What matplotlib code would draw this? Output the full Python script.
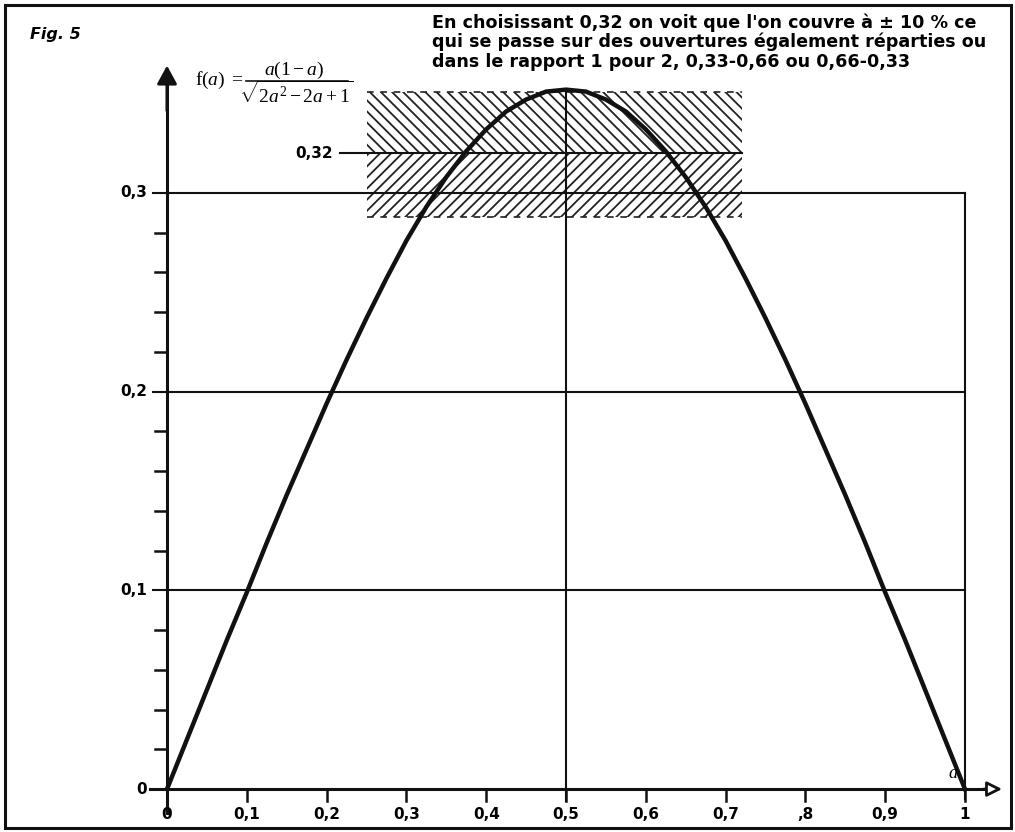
import numpy as np
import matplotlib
matplotlib.use('Agg')
import matplotlib.pyplot as plt
from matplotlib.patches import Rectangle

plt.rcParams['font.family'] = ['DejaVu Sans']
plt.rcParams['mathtext.fontset'] = 'custom'
plt.rcParams['mathtext.rm'] = 'Liberation Serif'
plt.rcParams['mathtext.it'] = 'Liberation Serif:italic'
plt.rcParams['hatch.linewidth'] = 1.3

# values
a_vals = [0, 0.025, 0.05, 0.075, 0.1, 0.125, 0.15, 0.175, 0.2, 0.225, 0.25,
          0.275, 0.3, 0.325, 0.35, 0.375, 0.4, 0.425, 0.45, 0.475, 0.5,
          0.525, 0.55, 0.575, 0.6, 0.625, 0.65, 0.675, 0.7, 0.725, 0.75,
          0.775, 0.8, 0.825, 0.85, 0.875, 0.9, 0.925, 0.95, 0.975, 1.0]
f_vals = [0, 0.025, 0.050, 0.075, 0.099, 0.124, 0.148, 0.171, 0.194, 0.216, 0.237,
          0.257, 0.276, 0.293, 0.308, 0.321, 0.332, 0.341, 0.347, 0.351, 0.352,
          0.351, 0.347, 0.341, 0.332, 0.321, 0.308, 0.293, 0.276, 0.257, 0.237,
          0.216, 0.194, 0.171, 0.148, 0.124, 0.099, 0.075, 0.050, 0.025, 0]

x_ticks = [0, 0.1, 0.2, 0.3, 0.4, 0.5, 0.6, 0.7, 0.8, 0.9, 1.0]
x_labels = ['0', '0,1', '0,2', '0,3', '0,4', '0,5', '0,6', '0,7', ',8', '0,9', '1']
y_ticks = [0, 0.1, 0.2, 0.3]
y_labels = ['0', '0,1', '0,2', '0,3']
y_minor = [0.02, 0.04, 0.06, 0.08, 0.12, 0.14, 0.16, 0.18, 0.22, 0.24, 0.26, 0.28]
level = 0.32
band_x = (0.25, 0.72)
band_y = (0.288, 0.351)

note = ("En choisissant 0,32 on voit que l'on couvre à ± 10 % ce\n"
        "qui se passe sur des ouvertures également réparties ou\n"
        "dans le rapport 1 pour 2, 0,33-0,66 ou 0,66-0,33")

ink = '#111111'

fig = plt.figure(figsize=(10.15, 8.32), dpi=100)
ax = fig.add_axes([0, 0, 1, 1])
ax.set_xlim(-0.2093, 1.0627)
ax.set_ylim(-0.0216, 0.3971)
ax.axis('off')

# outer frame
fig.add_artist(Rectangle((5 / 1015, 4 / 832), 1006 / 1015, 823 / 832,
                         transform=fig.transFigure, fill=False, lw=2.2, ec=ink))

# hatched band around 0.32
ax.add_patch(Rectangle((band_x[0], level), band_x[1] - band_x[0], band_y[1] - level,
                       fill=False, hatch='\\\\\\', lw=0, ec='#222222'))
ax.add_patch(Rectangle((band_x[0], band_y[0]), band_x[1] - band_x[0], level - band_y[0],
                       fill=False, hatch='///', lw=0, ec='#222222'))
for y in band_y:
    ax.plot(band_x, [y, y], color='#222222', lw=1.2, ls=(0, (4, 4)))
ax.plot([0.217, band_x[1]], [level, level], color=ink, lw=1.5)
ax.text(0.208, level, '0,32', ha='right', va='center', fontsize=11, fontweight='bold')

# grid lines
for y in y_ticks[1:]:
    ax.plot([-0.018, 1.0], [y, y], color=ink, lw=1.5)
ax.plot([1.0, 1.0], [-0.005, 0.3], color=ink, lw=1.5)
ax.plot([0.5, 0.5], [-0.006, band_y[1]], color=ink, lw=1.5)

# axes with arrows
ax.plot([0, 0], [-0.012, 0.36], color=ink, lw=2.2)
ax.annotate('', xy=(0, 0.3655), xytext=(0, 0.34),
            arrowprops=dict(arrowstyle='-|>,head_length=1.1,head_width=0.6',
                            fc=ink, ec=ink, lw=2.2))
ax.plot([-0.021, 1.03], [0, 0], color=ink, lw=2.2)
ax.annotate('', xy=(1.05, 0), xytext=(1.02, 0),
            arrowprops=dict(arrowstyle='-|>,head_length=0.9,head_width=0.45',
                            fc='white', ec=ink, lw=2.0))

for x in x_ticks[1:]:
    ax.plot([x, x], [0, -0.006], color=ink, lw=1.8)
for y in y_minor:
    ax.plot([-0.015, 0], [y, y], color=ink, lw=1.8)
ax.plot([-0.018, 0], [0, 0], color=ink, lw=1.8)

for x, lab in zip(x_ticks, x_labels):
    ax.text(x, -0.0128, lab, ha='center', va='center', fontsize=11, fontweight='bold')
for y, lab in zip(y_ticks, y_labels):
    ax.text(-0.025, y, lab, ha='right', va='center', fontsize=11, fontweight='bold')

# curve
ax.plot(a_vals, f_vals, color=ink, lw=3.2, solid_joinstyle='round')

ax.text(0.985, 0.008, r'$a$', ha='center', va='center', fontsize=13)

# formula, built from pieces like the original
fig.text(30 / 1015, 1 - 35 / 832, 'Fig. 5', ha='left', va='center',
         fontsize=11.5, fontweight='bold', style='italic')
fig.text(195 / 1015, 1 - 80 / 832, r'$\mathrm{f}(a)\ =$', ha='left', va='center', fontsize=14)
fig.text(294 / 1015, 1 - 70 / 832, r'$a(1-a)$', ha='center', va='center', fontsize=14)
fig.add_artist(plt.Line2D([246 / 1015, 348 / 1015], [1 - 81 / 832, 1 - 81 / 832],
                          color=ink, lw=1.2))
fig.text(296 / 1015, 1 - 94 / 832, r'$\sqrt{2a^2-2a+1}$', ha='center', va='center', fontsize=14)

fig.text(432 / 1015, 1 - 13 / 832, note, ha='left', va='top',
         fontsize=12.6, fontweight='bold', linespacing=1.1)

fig.savefig('out.png', dpi=100)
